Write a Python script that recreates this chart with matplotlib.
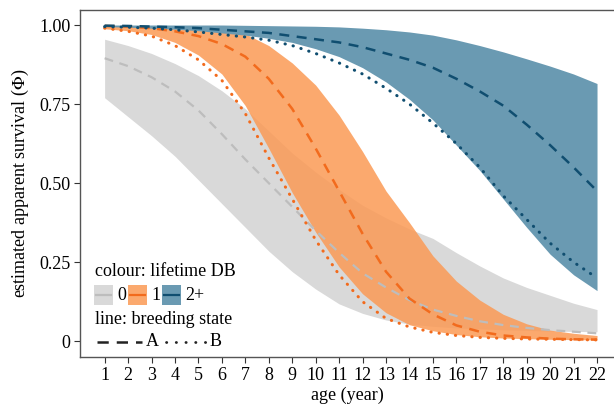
import matplotlib
matplotlib.use("Agg")
import matplotlib.pyplot as plt
from matplotlib.patches import Rectangle
from matplotlib.lines import Line2D

plt.rcParams['font.family'] = ['Liberation Serif', 'DejaVu Serif']
plt.rcParams['mathtext.fontset'] = 'stix'

age = list(range(1, 23))

grey_lo = [0.77, 0.71, 0.65, 0.585, 0.51, 0.435, 0.36, 0.285, 0.22, 0.165, 0.118, 0.088,
           0.067, 0.054, 0.047, 0.042, 0.039, 0.036, 0.034, 0.032, 0.031, 0.03]
grey_hi = [0.955, 0.935, 0.91, 0.878, 0.84, 0.792, 0.735, 0.665, 0.595, 0.535, 0.48, 0.43,
           0.39, 0.355, 0.325, 0.28, 0.238, 0.2, 0.17, 0.145, 0.12, 0.10]
grey_A = [0.895, 0.87, 0.835, 0.79, 0.73, 0.655, 0.575, 0.50, 0.425, 0.35, 0.28, 0.215,
          0.17, 0.13, 0.10, 0.08, 0.063, 0.051, 0.042, 0.035, 0.03, 0.025]

orange_lo = [0.988, 0.982, 0.97, 0.945, 0.905, 0.845, 0.745, 0.61, 0.47, 0.345, 0.235, 0.15,
             0.09, 0.052, 0.033, 0.021, 0.014, 0.01, 0.008, 0.006, 0.005, 0.004]
orange_hi = [0.998, 0.998, 0.997, 0.996, 0.994, 0.988, 0.972, 0.935, 0.88, 0.81, 0.715, 0.60,
             0.475, 0.375, 0.27, 0.19, 0.13, 0.085, 0.055, 0.035, 0.025, 0.018]
orange_A = [0.997, 0.995, 0.99, 0.98, 0.965, 0.94, 0.90, 0.83, 0.735, 0.61, 0.475, 0.34,
            0.22, 0.135, 0.085, 0.05, 0.03, 0.018, 0.012, 0.008, 0.006, 0.005]
orange_B = [0.99, 0.98, 0.965, 0.935, 0.89, 0.825, 0.72, 0.58, 0.45, 0.32, 0.21, 0.125,
            0.072, 0.045, 0.028, 0.018, 0.012, 0.009, 0.007, 0.006, 0.005, 0.004]

blue_lo = [0.995, 0.993, 0.99, 0.987, 0.982, 0.975, 0.968, 0.958, 0.945, 0.925, 0.90, 0.865,
           0.82, 0.765, 0.70, 0.62, 0.54, 0.45, 0.36, 0.275, 0.21, 0.16]
blue_hi = [1.0, 1.0, 1.0, 1.0, 1.0, 1.0, 0.999, 0.998, 0.997, 0.996, 0.994, 0.99,
           0.985, 0.978, 0.968, 0.953, 0.935, 0.915, 0.893, 0.87, 0.845, 0.815]
blue_A = [0.998, 0.997, 0.995, 0.993, 0.99, 0.985, 0.98, 0.975, 0.965, 0.955, 0.945, 0.93,
          0.91, 0.89, 0.865, 0.83, 0.79, 0.745, 0.685, 0.62, 0.55, 0.475]
blue_B = [0.995, 0.993, 0.99, 0.985, 0.978, 0.97, 0.962, 0.952, 0.935, 0.91, 0.88, 0.845,
          0.80, 0.75, 0.69, 0.625, 0.55, 0.46, 0.385, 0.31, 0.25, 0.20]

xticks = list(range(1, 23))
yticks = [0, 0.25, 0.5, 0.75, 1.0]
ytick_labels = ["0", "0.25", "0.50", "0.75", "1.00"]

c_grey_fill, c_grey_line = '#d9d9d9', '#bdbdbd'
c_or_fill, c_or_line = '#fb9a55', '#f26b1d'
c_bl_fill, c_bl_line = '#6a9ab2', '#104e70'

W, H = 614, 409
fig = plt.figure(figsize=(W / 100, H / 100), dpi=100)
ax = fig.add_axes([80 / W, (H - 357) / H, (W - 80) / W, (357 - 10) / H])

ax.fill_between(age, grey_lo, grey_hi, color=c_grey_fill, lw=0, zorder=1)
ax.fill_between(age, orange_lo, orange_hi, color=c_or_fill, alpha=0.85, lw=0, zorder=2)
ax.fill_between(age, blue_lo, blue_hi, color=c_bl_fill, lw=0, zorder=3)

ax.plot(age, grey_A, color=c_grey_line, ls=(0, (4, 3)), lw=1.6, zorder=4)
ax.plot(age, orange_A, color=c_or_line, ls=(0, (4, 3)), lw=1.8, zorder=5)
ax.plot(age, orange_B, color=c_or_line, ls=(0, (0.1, 2.6)), lw=2.2,
        dash_capstyle='round', zorder=5)
ax.plot(age, blue_A, color=c_bl_line, ls=(0, (4, 3)), lw=1.8, zorder=6)
ax.plot(age, blue_B, color=c_bl_line, ls=(0, (0.1, 2.6)), lw=2.2,
        dash_capstyle='round', zorder=6)

ax.set_xlim(-0.05, 22 + (W - 597) / 23.48)
ax.set_ylim(-0.05, 1.0 + 15 / 316)
ax.set_xticks(xticks)
ax.set_xticklabels([str(v) for v in xticks])
ax.set_yticks(yticks)
ax.set_yticklabels(ytick_labels)
ax.tick_params(direction='out', length=4, width=0.8, color='#333333',
               labelsize=13, labelcolor='black', pad=3)
for s in ['left', 'bottom', 'top']:
    ax.spines[s].set_color('#555555')
    ax.spines[s].set_linewidth(1.0)
ax.spines['right'].set_visible(False)
ax.set_xlabel('age (year)', fontsize=13, labelpad=2)
ax.set_ylabel(r'estimated apparent survival ($\mathit{\Phi}$)', fontsize=13, labelpad=6)

# legend (drawn in figure pixel coordinates)
def fx(px):
    return px / W

def fy(py):
    return 1 - py / H

tf = fig.transFigure
fig.text(fx(95), fy(271), 'colour: lifetime DB', fontsize=13, va='center', ha='left')
sw = 19
items = [(94, '0', c_grey_fill, c_grey_line, 1.0), (128, '1', c_or_fill, c_or_line, 0.85),
         (162, '2+', c_bl_fill, c_bl_line, 1.0)]
for x0, lab, fc, lc, al in items:
    fig.patches.append(Rectangle((fx(x0), fy(305)), sw / W, 20 / H, transform=tf,
                                 facecolor=fc, alpha=al, edgecolor='none'))
    fig.lines.append(Line2D([fx(x0 + 2), fx(x0 + sw - 2)], [fy(295), fy(295)],
                            transform=tf, color=lc, lw=1.6))
    fig.text(fx(x0 + sw + 4), fy(295), lab, fontsize=13, va='center', ha='left')
fig.text(fx(95), fy(320), 'line: breeding state', fontsize=13, va='center', ha='left')
fig.lines.append(Line2D([fx(97), fx(142)], [fy(342), fy(342)], transform=tf,
                        color='#222222', lw=1.8, ls=(0, (4.5, 3.2))))
fig.text(fx(146), fy(341), 'A', fontsize=13, va='center', ha='left')
fig.lines.append(Line2D([fx(166), fx(206)], [fy(342), fy(342)], transform=tf,
                        color='#222222', lw=2.0, ls=(0, (0.1, 3.4)), dash_capstyle='round'))
fig.text(fx(210), fy(341), 'B', fontsize=13, va='center', ha='left')

fig.savefig('out.png', dpi=100)
